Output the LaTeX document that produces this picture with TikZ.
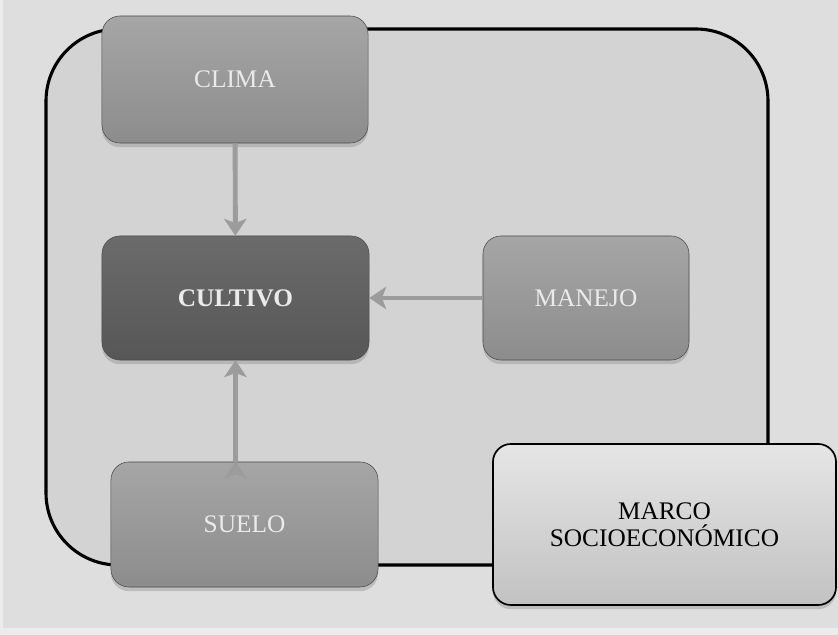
\documentclass[tikz,border=0pt]{standalone}
\usepackage{fontspec}
\setmainfont{Liberation Serif}
\usetikzlibrary{arrows.meta,shadows}

\definecolor{paper}{HTML}{ECECEC}
\definecolor{ground}{HTML}{DEDEDE}
\definecolor{frame}{HTML}{D3D3D3}
\definecolor{linkgray}{HTML}{9C9C9C}

\begin{document}
\begin{tikzpicture}[x=0.025cm,y=-0.025cm,
    >={Stealth[length=12pt,width=16pt,inset=3pt]},
    box/.style={rectangle,
        rounded corners=0.45cm,
        top color=gray!70!white,
        bottom color=gray!90!white,
        draw=gray!60!black, line width=0.4pt,
        drop shadow={shadow xshift=0pt,shadow yshift=-3pt,opacity=0.35}},
    darkbox/.style={box,
        top color=black!58,
        bottom color=black!66},
    lightbox/.style={box,
        top color=black!10,
        bottom color=black!24,
        draw=black, line width=1.2pt},
    label/.style={font=\fontsize{18}{19.5}\selectfont, text=black!8, align=center},
    link/.style={->, draw=linkgray, line width=3.5pt}
    ]

    % background
    \fill[paper] (0,0) rectangle (838,635);
    \fill[ground] (3,0) rectangle (838,628);
    \useasboundingbox (0,0) rectangle (838,635);

    % frame round the system
    \draw[fill=frame, line width=2.2pt, rounded corners=1.8cm] (46,29) rectangle (768,565);

    \node[box,
          minimum width = 6.65cm,
          minimum height = 3.175cm
          ] (clima) at (235,79.5) {};
    \node[label] at (clima.center) {CLIMA};

    \node[darkbox,
          minimum width = 6.675cm,
          minimum height = 3.1cm
          ] (cultivo) at (235.5,298) {};
    \node[label, font=\fontsize{18}{19.5}\selectfont\bfseries] at (cultivo.center) {CULTIVO};

    \node[box,
          minimum width = 5.15cm,
          minimum height = 3.1cm
          ] (manejo) at (586,298) {};
    \node[label] at (manejo.center) {MANEJO};

    \node[box,
          minimum width = 6.675cm,
          minimum height = 3.125cm
          ] (suelo) at (244.5,524.5) {};
    \node[label] at (suelo.center) {SUELO};

    \node[lightbox,
          minimum width = 8.575cm,
          minimum height = 4.025cm
          ] (marco) at (664.5,524.5) {};
    \node[label, text=black] at (marco.center) {MARCO\\SOCIOECONÓMICO};

    % influences on the crop
    \path[link]
    (clima) edge [link] (cultivo)
    (manejo) edge [link] (cultivo)
    (suelo.north -| cultivo.south) edge [link] (cultivo.south);

\end{tikzpicture}
\end{document}
